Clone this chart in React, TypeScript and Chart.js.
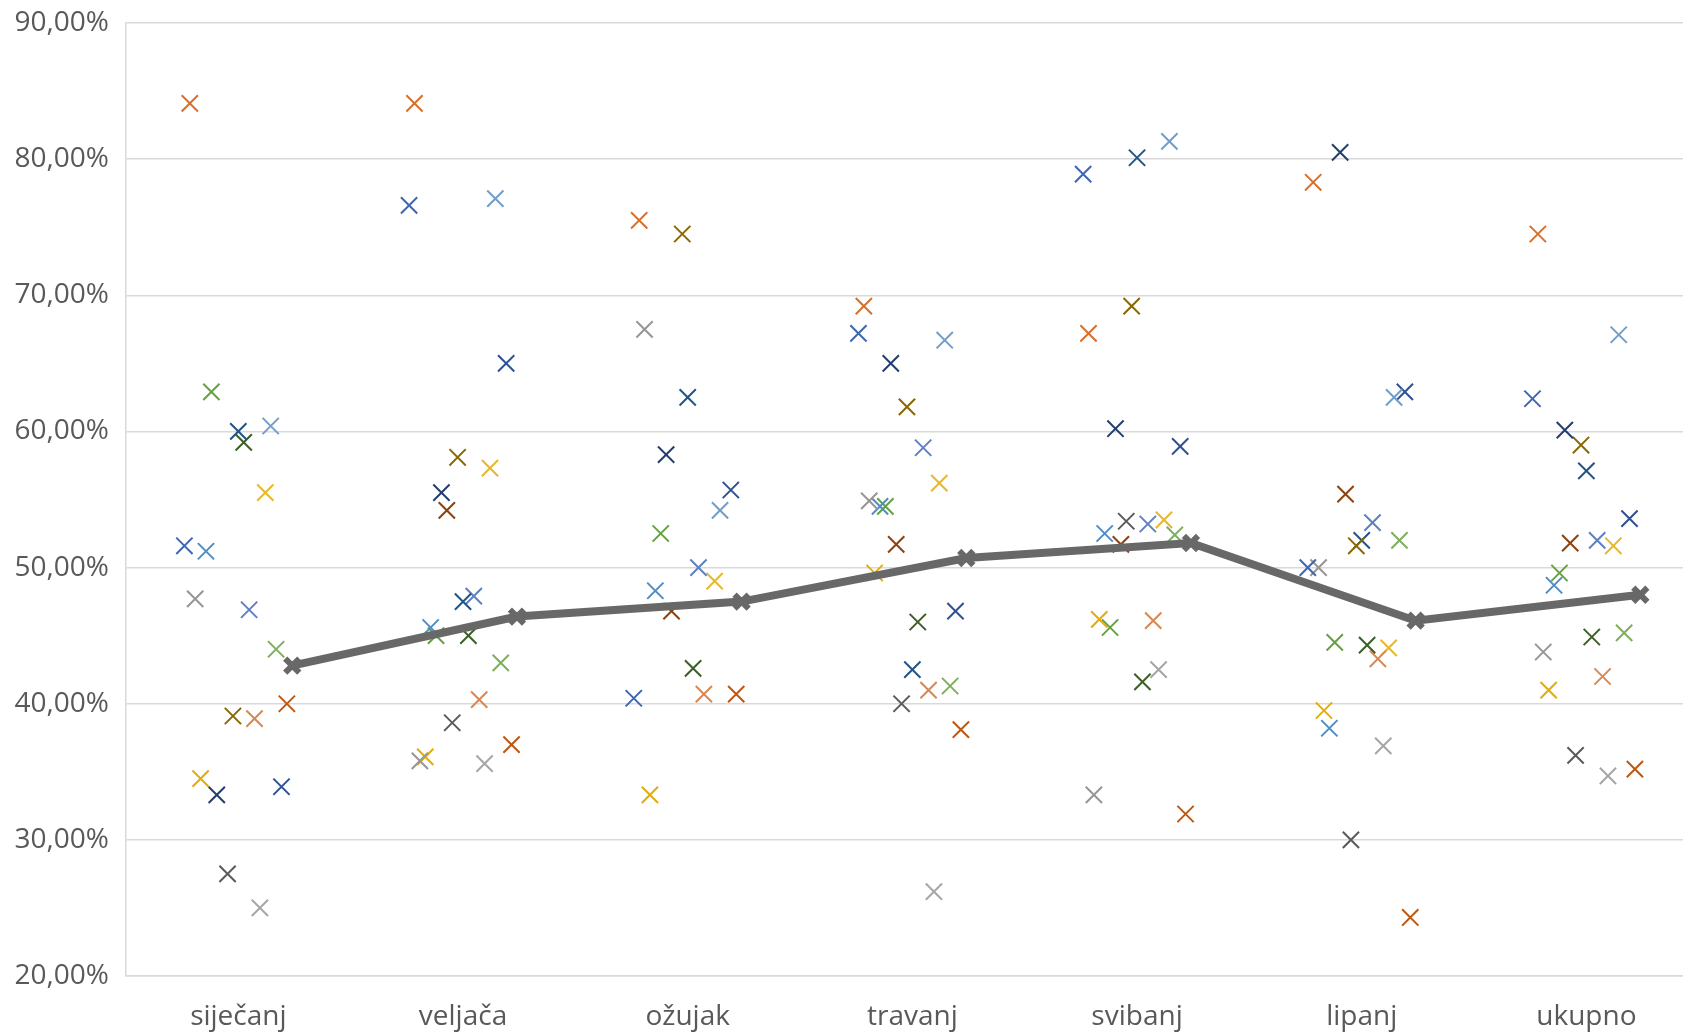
import React, { useEffect, useRef } from 'react';
import { Chart, registerables } from 'chart.js';

Chart.register(...registerables);

const categories = ['siječanj', 'veljača', 'ožujak', 'travanj', 'svibanj', 'lipanj', 'ukupno'];
const yTickValues = [20, 30, 40, 50, 60, 70, 80, 90];

const s01 = [51.6, 76.6, 40.4, 67.2, 78.9, 50.0, 62.4];
const s02 = [84.1, 84.1, 75.5, 69.2, 67.2, 78.3, 74.5];
const s03 = [47.7, 35.8, 67.5, 54.9, 33.3, 50.0, 43.8];
const s04 = [34.5, 36.1, 33.3, 49.6, 46.2, 39.5, 41.0];
const s05 = [51.2, 45.6, 48.3, 54.5, 52.5, 38.2, 48.7];
const s06 = [62.9, 45.0, 52.5, 54.5, 45.6, 44.5, 49.6];
const s07 = [33.3, 55.5, 58.3, 65.0, 60.2, 80.5, 60.1];
const s08 = [null, 54.2, 46.8, 51.7, 51.7, 55.4, 51.8];
const s09 = [27.5, 38.6, null, 40.0, 53.4, 30.0, 36.2];
const s10 = [39.1, 58.1, 74.5, 61.8, 69.2, 51.6, 59.0];
const s11 = [60.0, 47.5, 62.5, 42.5, 80.1, 52.0, 57.1];
const s12 = [59.2, 45.0, 42.6, 46.0, 41.6, 44.3, 44.9];
const s13 = [46.9, 47.9, 50.0, 58.8, 53.2, 53.3, 52.0];
const s14 = [38.9, 40.3, 40.7, 41.0, 46.1, 43.3, 42.0];
const s15 = [25.0, 35.6, null, 26.2, 42.5, 36.9, 34.7];
const s16 = [55.5, 57.3, 49.0, 56.2, 53.5, 44.1, 51.6];
const s17 = [60.4, 77.1, 54.2, 66.7, 81.3, 62.5, 67.1];
const s18 = [44.0, 43.0, null, 41.3, 52.4, 52.0, 45.2];
const s19 = [33.9, 65.0, 55.7, 46.8, 58.9, 62.9, 53.6];
const s20 = [40.0, 37.0, 40.7, 38.1, 31.9, 24.3, 35.2];
const average = [42.8, 46.4, 47.5, 50.7, 51.8, 46.1, 48.0];

const seriesList = [s01, s02, s03, s04, s05, s06, s07, s08, s09, s10, s11, s12, s13, s14, s15, s16, s17, s18, s19, s20];
const seriesColors = [
  '#3D66B3', '#D7702C', '#969696', '#E3AC0A', '#518CC2', '#65A041',
  '#233E6E', '#8F410D', '#5A5A5A', '#8A6800', '#215585', '#3C5E27',
  '#5F81C0', '#DB8751', '#A6A6A6', '#E6B82B', '#709FCA', '#7EAF5E',
  '#2E5192', '#BE5710',
];

const STEP = 0.024;
const FONT = '"Open Sans", "DejaVu Sans", sans-serif';
const TEXT = '#595959';
const GRID = '#D9D9D9';

const fmt = (v: number) => v.toFixed(2).replace('.', ',') + '%';

export default function App() {
  const ref = useRef<HTMLCanvasElement | null>(null);

  useEffect(() => {
    document.body.style.margin = '0';
    document.body.style.overflow = 'hidden';
    if (!ref.current) return;

    const scatterSets = seriesList.map((vals, si) => {
      const k = si - 10;
      return {
        type: 'scatter' as const,
        label: 'S' + (si + 1),
        data: vals
          .map((v, i) => (v === null ? null : { x: i + k * STEP, y: v }))
          .filter((p) => p !== null),
        pointStyle: 'crossRot',
        pointRadius: 11.5,
        pointBorderWidth: 2,
        borderColor: seriesColors[si],
        backgroundColor: seriesColors[si],
        showLine: false,
        order: 2,
      };
    });

    const lineSet = {
      type: 'line' as const,
      label: 'prosjek',
      data: average.map((v, i) => ({ x: i + 10 * STEP, y: v })),
      borderColor: '#686868',
      backgroundColor: '#686868',
      borderWidth: 8,
      pointStyle: 'crossRot',
      pointRadius: 10,
      pointBorderWidth: 6,
      pointBorderColor: '#686868',
      tension: 0,
      order: 1,
    };

    const chart = new Chart(ref.current, {
      type: 'scatter',
      data: { datasets: [...scatterSets, lineSet] as any },
      options: {
        animation: false,
        responsive: true,
        maintainAspectRatio: false,
        layout: { autoPadding: false, padding: { left: 0, right: 0, top: 23, bottom: 0 } },
        plugins: { legend: { display: false }, tooltip: { enabled: false } },
        scales: {
          x: {
            type: 'linear',
            min: -0.5,
            max: 6.43,
            afterBuildTicks: (s: any) => {
              s.ticks = categories.map((_, i) => ({ value: i }));
            },
            afterFit: (s: any) => {
              s.height = 57;
              s.paddingLeft = 0;
              s.paddingRight = 0;
            },
            ticks: {
              callback: (v: any) => categories[Math.round(Number(v))] ?? '',
              font: { family: FONT, size: 28 },
              color: TEXT,
              padding: 24,
              maxRotation: 0,
              autoSkip: false,
            },
            grid: { display: false, drawTicks: false },
            border: { display: true, color: GRID, width: 1.5 },
          },
          y: {
            type: 'linear',
            min: 20,
            max: 90,
            afterBuildTicks: (s: any) => {
              s.ticks = yTickValues.map((v) => ({ value: v }));
            },
            afterFit: (s: any) => {
              s.width = 126;
              s.paddingTop = 0;
              s.paddingBottom = 0;
            },
            ticks: {
              callback: (v: any) => fmt(Number(v)),
              font: { family: FONT, size: 28 },
              color: TEXT,
              padding: 17,
            },
            grid: { color: GRID, lineWidth: 1.5, drawTicks: false },
            border: { display: true, color: GRID, width: 1.5 },
          },
        },
      },
    });

    return () => chart.destroy();
  }, []);

  return (
    <div style={{ width: '1683px', height: '1033px', position: 'relative', background: '#fff' }}>
      <canvas ref={ref} />
    </div>
  );
}
